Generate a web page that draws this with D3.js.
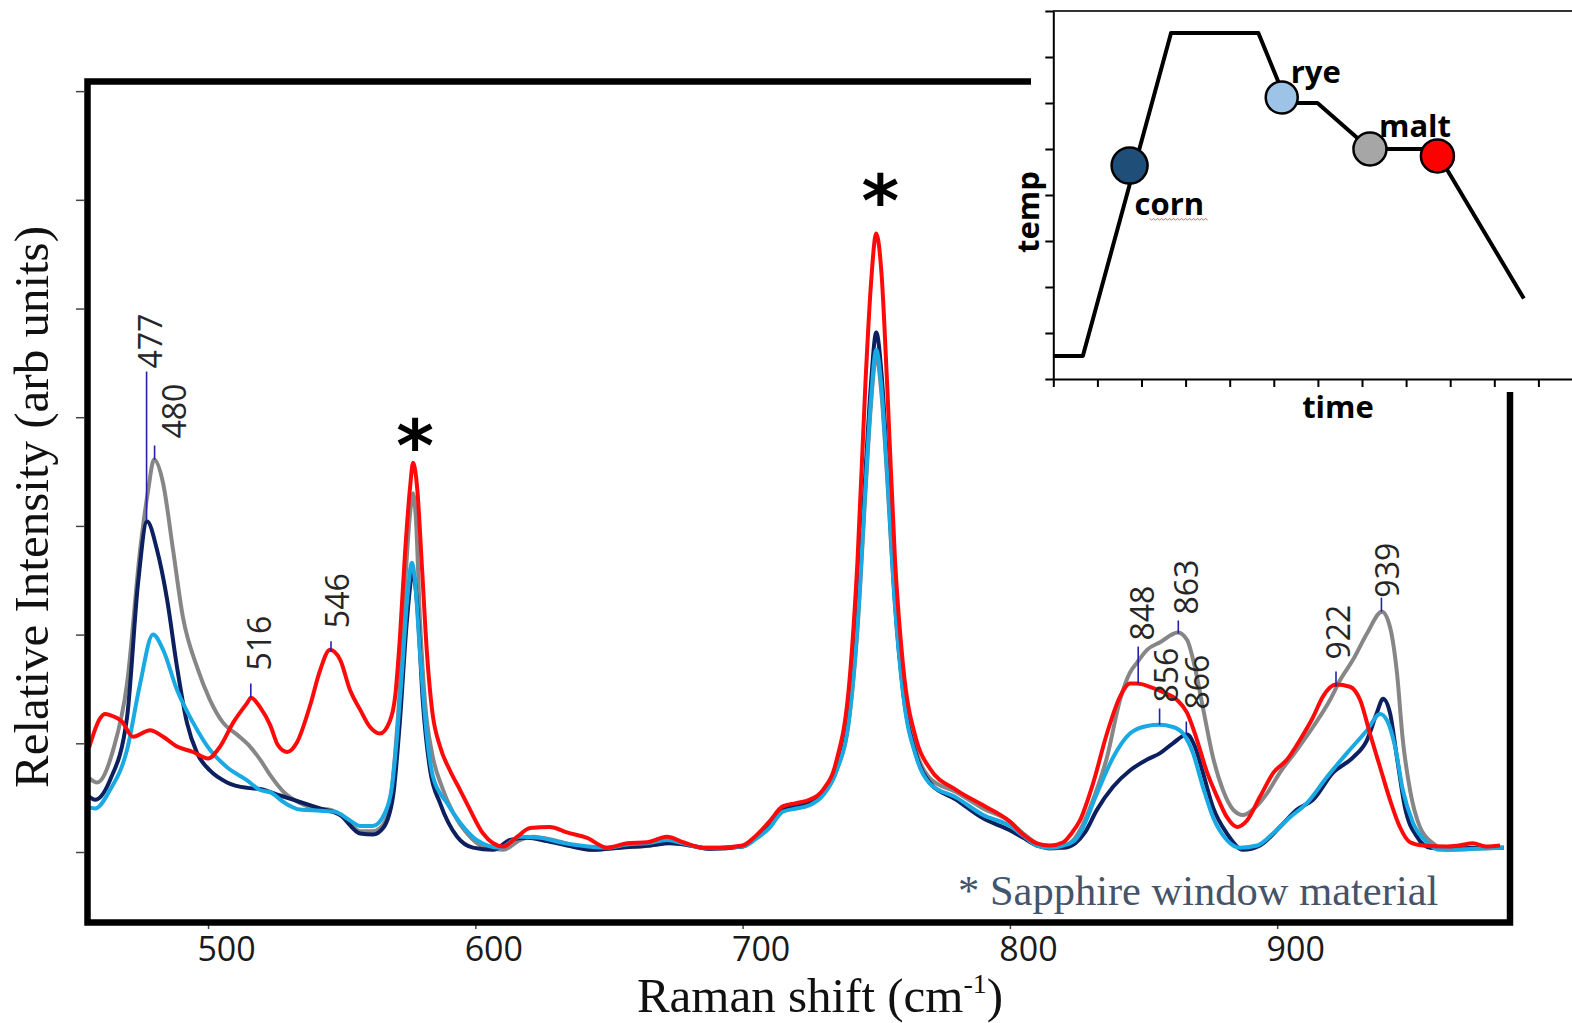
<!DOCTYPE html>
<html>
<head>
<meta charset="utf-8">
<script src="https://cdn.jsdelivr.net/npm/d3@7/dist/d3.min.js"></script>
<style>
  body { margin: 0; background: #fff; }
  svg { display: block; }
</style>
</head>
<body>
<div id="chart"></div>
<script>

// Raman spectra, [Raman shift (cm-1), relative intensity (arb units)]
let corn = [
  [455.5,51],[457.7,48],[463.3,66],[469.7,124],[473.8,247],[477.2,304],[480.9,278],[484.7,232],
  [488.4,170],[492.1,119],[495.9,91],[500.7,75],[507.1,64],[514.6,59],[519.5,58],[526.9,52],
  [534.4,46],[541.9,40],[549.4,34],[556.9,17],[561.7,16],[565.5,22],[569.2,51],[571.8,121],
  [574.4,213],[576.6,257],[578.2,229],[580.4,137],[583.1,75],[586.8,45],[593.2,14],[599.1,4],
  [606.6,2],[613,11],[619.3,13],[626.8,10],[634.3,6],[644,2],[654.1,4],[665.4,6],[672.8,8],
  [680.3,6],[687.8,3],[699.8,5],[705,13],[710,24],[715,40],[720,42],[725,45],[730,54],[735,75],
  [740,131],[743,218],[746,351],[748,430],[750,478],[752,439],[754,361],[757,232],[760,149],
  [765,89],[770,64],[780,48],[790,31],[800,20],[805,13],[810,6],[815,4],[820,4],[824.4,8],
  [828.1,18],[832.6,39],[838.6,60],[844.9,75],[851.3,85],[856.2,91],[861,100],[866.3,108],
  [869.2,97],[872.2,73],[876,41],[881.2,17],[887.2,2],[893.6,6],[901,23],[907.4,39],[913.4,48],
  [920.9,73],[928.4,87],[933.6,103],[937.3,128],[939.6,141],[942.2,128],[944.8,87],[947.8,41],
  [952.3,14],[957.2,4],[964.6,3],[974,4],[984.8,4]
]

let rye = [
  [455.5,41],[457.7,40],[463.3,57],[469.7,94],[474.6,155],[479.4,200],[483.2,186],[488.4,149],
  [494.4,119],[500.7,94],[507.1,78],[514.6,66],[519.5,57],[523.2,55],[528.8,45],[534.4,39],
  [541.9,38],[547.5,37],[553.1,29],[556.9,24],[561.7,24],[566.2,36],[568.8,60],[570.7,106],
  [572.6,167],[574.4,229],[576.3,266],[577.4,250],[579.3,183],[581.9,106],[584.2,69],[589.4,45],
  [594.3,27],[600.6,11],[609.2,4],[616.7,14],[624.2,13],[631.7,9],[639.2,6],[649.3,4],[656.8,7],
  [664.2,8],[671.7,11],[677.7,8],[685.2,4],[691.5,4],[700,5],[705,12],[710,22],[715,37],[720,40],
  [725,43],[730,52],[735,74],[740,126],[743,209],[746,338],[748,416],[750,462],[752,425],
  [754,351],[757,227],[760,146],[765,87],[770,63],[780,50],[790,34],[800,24],[805,15],[810,6],
  [815,4],[820,6],[824.4,11],[826.2,17],[832.6,54],[838.6,87],[844.9,109],[851.3,116],[855.8,117],
  [861,115],[864.8,109],[868.5,91],[872.2,60],[876,32],[881.2,11],[886.1,4],[892.5,6],[898.4,17],
  [904.8,32],[911.1,45],[918.6,69],[926.1,91],[933.6,112],[938.5,127],[941.1,121],[944.1,97],
  [947,57],[950.8,27],[956,9],[960.9,2],[974,3],[984.8,4]
]

let malt = [
  [455.5,68],[458.5,64],[464.5,94],[469.7,155],[474.6,278],[477.6,333],[479.8,361],[483.2,339],
  [486.9,278],[490.6,216],[495.9,170],[500.7,140],[505.6,119],[510.8,108],[515.7,97],[519.5,85],
  [523.2,71],[528.8,54],[534.4,45],[540,40],[545.6,39],[551.3,31],[556.9,19],[561.7,19],
  [565.5,25],[568.1,45],[570,91],[571.8,152],[573.7,244],[575.6,312],[576.7,330],[577.8,305],
  [579.3,213],[581.2,137],[583.8,91],[587.5,60],[591.7,36],[596.9,17],[602.9,5],[610.4,2],
  [616.7,11],[621.6,14],[629.1,11],[636.6,6],[644,2],[654.1,4],[665.4,6],[672.8,9],[680.3,6],
  [687.8,3],[700,5],[705,13],[710,24],[715,39],[720,42],[725,45],[730,53],[735,74],[740,125],
  [743,206],[746,333],[748,411],[750,456],[752,420],[754,347],[757,227],[760,149],[765,92],
  [770,68],[780,55],[790,40],[800,28],[805,17],[810,8],[815,3],[820,5],[824.4,13],[826.2,20],
  [831.1,48],[836.3,87],[841.2,140],[844.9,165],[847.5,174],[851.3,186],[856.2,193],[862.9,202],
  [866.3,195],[869.2,170],[872.2,133],[876,87],[879.7,57],[883.5,39],[887.2,34],[890.9,39],
  [896.2,54],[901,73],[907.4,94],[913.4,115],[919.8,140],[923.5,158],[928.4,177],[933.6,201],
  [939.2,221],[942.2,207],[944.8,165],[947,103],[949.7,57],[953.4,23],[958.3,8],[963.5,2],
  [974,3],[984.8,4]
]

let stage4 = [
  [455.5,96],[459.6,123],[461.5,127],[463.3,126],[467.8,120],[471.9,106],[478.3,112],[483.2,106],
  [488.4,97],[494.4,92],[500,86],[504.5,97],[509.4,119],[514.6,137],[516.1,142],[519.5,133],
  [523.2,117],[526.2,98],[529.6,92],[533.3,101],[538.2,135],[541.9,167],[545.6,186],[549.4,177],
  [553.1,149],[556.9,131],[560.6,115],[564.3,109],[568.1,121],[570,143],[571.8,198],[573.7,275],
  [575.6,336],[576.7,358],[578.2,336],[580.1,259],[581.9,183],[583.8,131],[586.8,97],[590.5,75],
  [594.3,57],[598,39],[602.9,17],[610.4,5],[615.6,14],[620.5,22],[627.9,23],[634.3,18],
  [641.8,13],[649.3,4],[656.8,8],[664.2,9],[671.7,14],[677.7,9],[685.2,4],[691.5,4],[700,6],
  [705,15],[710,28],[715,42],[720,45],[725,48],[730,57],[735,83],[740,158],[743,269],[746,434],
  [748,522],[750,569],[752,531],[754,434],[757,269],[760,172],[765,103],[770,77],[780,57],
  [790,43],[800,28],[805,16],[810,8],[815,6],[820,9],[823,17],[826.2,29],[831.1,63],[836.3,109],
  [841.2,143],[844.9,155],[847.5,155],[852.4,152],[857.3,147],[862.5,140],[866.3,128],[870,103],
  [873.8,73],[877.5,51],[881.2,32],[885,23],[888.7,29],[893.6,51],[898.6,73],[903.7,85],
  [908.5,103],[913.4,124],[917.1,143],[922,154],[927.2,152],[931,140],[934.7,109],[938.5,78],
  [942.2,48],[945.9,23],[949.7,9],[954.5,6],[963.5,5],[968,6],[973.3,8],[978,5],[983.4,6]
]

let series_names = ["malt", "corn", "rye", "stage4"]
let series_colors = ["#868686", "#0c1f5e", "#19a9e3", "#ff0a0a"]

// labelled bands: position, top and bottom of the marker line (arb units)
let peak_pos = [477, 480, 516, 546, 848, 856, 863, 866, 922, 939]
let peak_top = [442, 374, 155, 194, 189, 132, 213, 120, 166, 234]
let peak_bottom = [305, 361, 142, 184, 155, 117, 201, 109, 152, 221]
let peak_dx = [15, 31, 20, 18, 16, 18, 20, 23, 14, 18]
let peak_gap = [3, 7, 13, 13, 6, 6, 6, 12, 12, 0]

// sapphire bands marked with *
let star_pos = [576, 750]
let star_level = [358, 569]

let x_ticks = [500, 600, 700, 800, 900]
let y_ticks = [0, 100, 200, 300, 400, 500, 600, 700]

// inset: temperature program
let prog_time = [0, 0.67, 2.67, 4.65, 5.3, 5.99, 7.18, 8.65, 10.67]
let prog_temp = [0.5, 0.5, 7.52, 7.52, 6.0, 6.0, 5.0, 5.0, 1.75]
let stage_names = ["corn", "rye", "malt", ""]
let stage_time = [1.73, 5.18, 7.18, 8.71]
let stage_temp = [4.64, 6.12, 5.0, 4.85]
let stage_colors = ["#1f4e79", "#9dc3e6", "#a6a6a6", "#ff0000"]

let width = 1572
let height = 1023

window.onload = function () {
  draw()
}

function draw() {

  let svg = d3.select("#chart")
    .append("svg")
    .attr("width", width)
    .attr("height", height)
    .style("background", "#fff")

  let x = d3.scaleLinear()
    .domain([454.9, 987.1])
    .range([87.5, 1510])

  let y = d3.scaleLinear()
    .domain([-64.4, 708.4])
    .range([922, 82])

  // y ticks (no labels)
  svg.append("g")
    .attr("transform", "translate(84,0)")
    .call(d3.axisLeft(y).tickValues(y_ticks).tickSize(8).tickFormat(""))
    .call(g => g.select(".domain").remove())
    .selectAll("line")
    .attr("stroke", "#444")
    .attr("stroke-width", 1.5)

  // x axis
  let xa = svg.append("g")
    .attr("transform", "translate(0,922)")
    .call(d3.axisBottom(x).tickValues(x_ticks).tickSize(7))
  xa.select(".domain").remove()
  xa.selectAll("line").attr("stroke", "#444").attr("stroke-width", 1.5)
  xa.selectAll("text")
    .attr("y", 39)
    .attr("dy", null)
    .attr("dx", 18)
    .attr("fill", "#1a1a1a")
    .style("font-family", "'Open Sans', sans-serif")
    .style("font-size", "34px")

  // spectra
  let line = d3.line()
    .x(d => x(d[0]))
    .y(d => y(d[1]))
    .curve(d3.curveMonotoneX)

  let all = {corn: corn, rye: rye, malt: malt, stage4: stage4}
  series_names.forEach((name, i) => {
    svg.append("path")
      .datum(all[name])
      .attr("fill", "none")
      .attr("stroke", series_colors[i])
      .attr("stroke-width", 4)
      .attr("stroke-linejoin", "round")
      .attr("d", line)
  })

  // peak markers and labels
  peak_pos.forEach((p, i) => {
    svg.append("line")
      .attr("x1", x(p)).attr("x2", x(p))
      .attr("y1", y(peak_top[i])).attr("y2", y(peak_bottom[i]))
      .attr("stroke", "#2323a8")
      .attr("stroke-width", 1.6)
    svg.append("text")
      .attr("transform", "translate(" + (x(p) + peak_dx[i]) + "," + (y(peak_top[i]) - peak_gap[i]) + ") rotate(-90)")
      .attr("fill", "#262626")
      .style("font-family", "'Open Sans', sans-serif")
      .style("font-size", "32px")
      .text(p)
  })

  star_pos.forEach((p, i) => {
    svg.append("text")
      .attr("x", x(p) + 4)
      .attr("y", y(star_level[i]) + (i == 0 ? 8 : -8))
      .attr("text-anchor", "middle")
      .style("font-family", "'DejaVu Sans', sans-serif")
      .style("font-weight", "bold")
      .style("font-size", "72px")
      .text("*")
  })

  svg.append("text")
    .attr("x", 958)
    .attr("y", 905)
    .attr("fill", "#44546a")
    .style("font-family", "'Liberation Serif', serif")
    .style("font-size", "42.5px")
    .text("* Sapphire window material")

  // frame
  svg.append("rect")
    .attr("x", 87.5).attr("y", 81.5)
    .attr("width", 1510 - 87.5).attr("height", 922.5 - 81.5)
    .attr("fill", "none")
    .attr("stroke", "#000")
    .attr("stroke-width", 6.5)

  // axis titles
  svg.append("text")
    .attr("transform", "translate(48,507) rotate(-90)")
    .attr("text-anchor", "middle")
    .attr("fill", "#111")
    .style("font-family", "'Liberation Serif', serif")
    .style("font-size", "49px")
    .text("Relative Intensity (arb units)")

  let xt = svg.append("text")
    .attr("x", 820)
    .attr("y", 1012)
    .attr("text-anchor", "middle")
    .attr("fill", "#111")
    .style("font-family", "'Liberation Serif', serif")
    .style("font-size", "49px")
  xt.append("tspan").text("Raman shift (cm")
  xt.append("tspan").attr("dy", -19).style("font-size", "28px").text("-1")
  xt.append("tspan").attr("dy", 19).text(")")

  drawInset(svg)
}

function drawInset(svg) {

  svg.append("rect")
    .attr("x", 1031).attr("y", 0)
    .attr("width", 541).attr("height", 392)
    .attr("fill", "#fff")

  let ix = d3.scaleLinear().domain([0, 12]).range([1053.3, 1582.5])
  let iy = d3.scaleLinear().domain([0, 8]).range([379, 11])

  svg.append("line")
    .attr("x1", 1053).attr("x2", 1572)
    .attr("y1", 11).attr("y2", 11)
    .attr("stroke", "#333").attr("stroke-width", 2)

  let ya = svg.append("g")
    .attr("transform", "translate(1053.3,0)")
    .call(d3.axisLeft(iy).ticks(8).tickSize(8).tickFormat("").tickSizeOuter(0))
  ya.selectAll("line, path").attr("stroke", "#000").attr("stroke-width", 2)

  let xa = svg.append("g")
    .attr("transform", "translate(0,379)")
    .call(d3.axisBottom(ix).tickValues(d3.range(0, 12)).tickSize(8).tickFormat("").tickSizeOuter(0))
  xa.selectAll("line, path").attr("stroke", "#000").attr("stroke-width", 2)

  let prog = prog_time.map((t, i) => [t, prog_temp[i]])
  svg.append("path")
    .datum(prog)
    .attr("fill", "none")
    .attr("stroke", "#000")
    .attr("stroke-width", 4)
    .attr("stroke-linejoin", "round")
    .attr("d", d3.line().x(d => ix(d[0])).y(d => iy(d[1])))

  let radius = [18, 16, 16.5, 16.5]
  stage_time.forEach((t, i) => {
    svg.append("circle")
      .attr("cx", ix(t))
      .attr("cy", iy(stage_temp[i]))
      .attr("r", radius[i])
      .attr("fill", stage_colors[i])
      .attr("stroke", "#000")
      .attr("stroke-width", 2.5)
  })

  let label_dx = [5, 9, 9]
  let label_dy = [49, -14, -12]
  stage_names.forEach((n, i) => {
    if (n == "") return
    svg.append("text")
      .attr("x", ix(stage_time[i]) + label_dx[i])
      .attr("y", iy(stage_temp[i]) + label_dy[i])
      .attr("fill", "#000")
      .style("font-family", "'Open Sans', sans-serif")
      .style("font-weight", "bold")
      .style("font-size", "31px")
      .text(n)
  })

  // spell-check squiggle under "corn"
  let sq = d3.range(0, 30).map(k => [ix(stage_time[0]) + 20 + k * 2, iy(stage_temp[0]) + 53 + (k % 2) * 1.5])
  svg.append("path")
    .attr("d", d3.line()(sq))
    .attr("fill", "none")
    .attr("stroke", "#e06060")
    .attr("stroke-width", 1)

  svg.append("text")
    .attr("x", 1338)
    .attr("y", 418)
    .attr("text-anchor", "middle")
    .style("font-family", "'Open Sans', sans-serif")
    .style("font-weight", "bold")
    .style("font-size", "31px")
    .text("time")

  svg.append("text")
    .attr("transform", "translate(1039,212) rotate(-90)")
    .attr("text-anchor", "middle")
    .style("font-family", "'Open Sans', sans-serif")
    .style("font-weight", "bold")
    .style("font-size", "31px")
    .text("temp")
}

</script>
</body>
</html>
